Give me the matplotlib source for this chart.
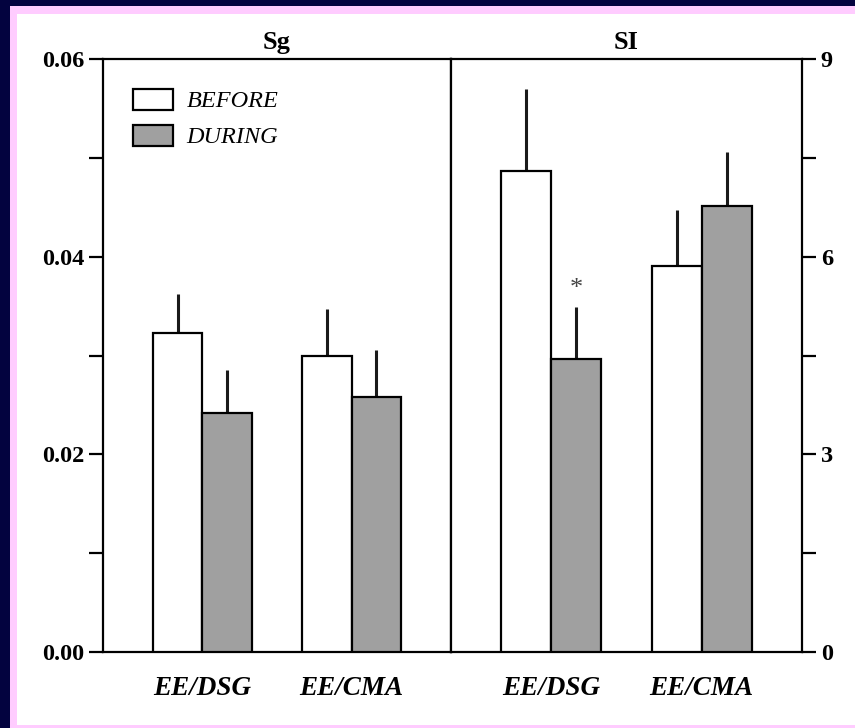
import numpy as np
import matplotlib
matplotlib.use('Agg')
import matplotlib.pyplot as plt
from matplotlib.patches import Rectangle, Patch
from matplotlib.ticker import FixedLocator

plt.rcParams['font.family'] = ['Liberation Serif', 'DejaVu Serif']

# ---- data ----
groups = ['EE/DSG', 'EE/CMA']
series = ['BEFORE', 'DURING']

sg_before = [0.0323, 0.0300]
sg_before_err = [0.0039, 0.0047]
sg_during = [0.0242, 0.0258]
sg_during_err = [0.0043, 0.0048]

si_before = [7.30, 5.86]
si_before_err = [1.25, 0.85]
si_during = [4.45, 6.77]
si_during_err = [0.79, 0.82]

# significance markers (group index, series index)
si_stars = [(0, 1)]

navy = '#03033f'
pink = '#ffccff'
grey = '#a0a0a0'

fig = plt.figure(figsize=(8.55, 7.28), dpi=100)
fig.patch.set_facecolor(navy)
W, H = 855, 728
# pink frame and white page
fig.patches.append(Rectangle((10 / W, 0), 1, 1 - 6 / H, transform=fig.transFigure,
                             facecolor=pink, edgecolor='none', zorder=-2))
fig.patches.append(Rectangle((17 / W, 3 / H), 1, 1 - 17 / H, transform=fig.transFigure,
                             facecolor='white', edgecolor='none', zorder=-1))

bottom = 1 - 652 / H
height = (652 - 59) / H
ax1 = fig.add_axes([103 / W, bottom, 348 / W, height])
ax2 = fig.add_axes([451 / W, bottom, 351 / W, height])

x = np.array([1.0, 2.5])
w = 0.5
tick_fs = 17.5


def draw_panel(ax, before, before_err, during, during_err):
    ax.bar(x - w / 2, before, w, color='white', edgecolor='black', linewidth=1.6, zorder=3)
    ax.bar(x + w / 2, during, w, color=grey, edgecolor='black', linewidth=1.6, zorder=3)
    ax.errorbar(x - w / 2, before, yerr=[np.zeros(2), before_err], fmt='none',
                ecolor='#1a1a1a', elinewidth=2.2, capsize=0, zorder=2)
    ax.errorbar(x + w / 2, during, yerr=[np.zeros(2), during_err], fmt='none',
                ecolor='#1a1a1a', elinewidth=2.2, capsize=0, zorder=2)
    ax.set_xlim(0, 3.5)
    ax.set_xticks(x)
    ax.set_xticklabels(groups, fontsize=19.5, fontweight='bold', style='italic')
    ax.tick_params(axis='x', length=0, pad=17)
    for s in ax.spines.values():
        s.set_linewidth(1.6)
    ax.tick_params(axis='y', which='both', direction='out', length=10, width=1.6)


draw_panel(ax1, sg_before, sg_before_err, sg_during, sg_during_err)
ax1.set_ylim(0, 0.06)
ax1.yaxis.set_major_locator(FixedLocator([0, 0.02, 0.04, 0.06]))
ax1.yaxis.set_minor_locator(FixedLocator([0.01, 0.03, 0.05]))
ax1.set_yticklabels(['0.00', '0.02', '0.04', '0.06'], fontweight='bold', fontsize=tick_fs)
ax1.set_title('Sg', fontsize=19, fontweight='bold', pad=7)

draw_panel(ax2, si_before, si_before_err, si_during, si_during_err)
ax2.set_ylim(0, 9)
ax2.yaxis.tick_right()
ax2.yaxis.set_major_locator(FixedLocator([0, 3, 6, 9]))
ax2.yaxis.set_minor_locator(FixedLocator([1.5, 4.5, 7.5]))
ax2.set_yticklabels(['0', '3', '6', '9'], fontweight='bold', fontsize=tick_fs)
ax2.tick_params(axis='y', which='both', left=False, right=True)
ax2.set_title('SI', fontsize=19, fontweight='bold', pad=7)

for gi, si in si_stars:
    vals = si_during if si == 1 else si_before
    errs = si_during_err if si == 1 else si_before_err
    xs = x[gi] + (w / 2 if si == 1 else -w / 2)
    ax2.text(xs, vals[gi] + errs[gi] + 0.1, '*', ha='center', va='bottom',
             fontsize=19, color='#444444')

handles = [Patch(facecolor='white', edgecolor='black', linewidth=1.6),
           Patch(facecolor=grey, edgecolor='black', linewidth=1.6)]
leg = ax1.legend(handles, series, loc='upper left', bbox_to_anchor=(0.086, 0.95),
                 frameon=False, borderpad=0, borderaxespad=0, handlelength=1.65,
                 handleheight=0.95, handletextpad=0.55, labelspacing=0.5,
                 prop={'family': 'Liberation Serif', 'style': 'italic', 'size': 17.5})

fig.savefig('out.png', dpi=100, facecolor=fig.get_facecolor())
